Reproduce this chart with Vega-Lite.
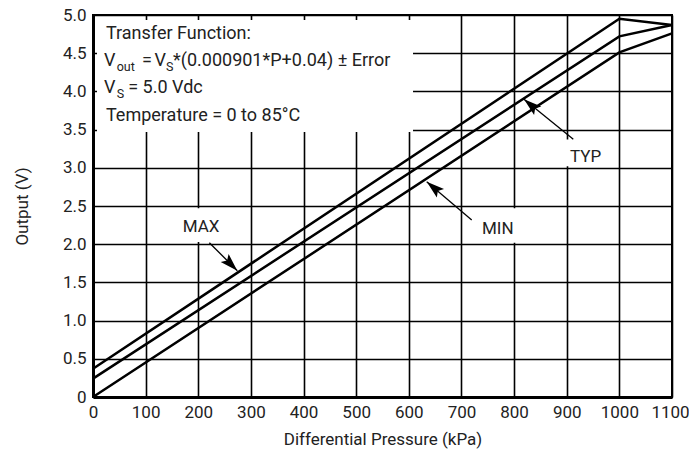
{
  "$schema": "https://vega.github.io/schema/vega-lite/v6.json",
  "width": 579,
  "height": 382,
  "autosize": {"type": "none"},
  "padding": {"left": 93, "top": 15, "right": 17, "bottom": 59},
  "background": "white",
  "config": {
    "view": {"stroke": "#000", "strokeWidth": 2},
    "font": "Roboto",
    "axis": {
      "grid": true,
      "gridColor": "#000",
      "gridWidth": 1.6,
      "gridOpacity": 1,
      "domainColor": "#000",
      "domainWidth": 3,
      "ticks": false,
      "tickSize": 0,
      "tickCount": 30,
      "labelFont": "Roboto",
      "labelFontSize": 17,
      "labelColor": "#222",
      "titleFont": "Roboto",
      "titleFontSize": 17,
      "titleFontWeight": "normal",
      "titleColor": "#222"
    }
  },
  "datasets": {
    "lines": [
      {"series": "MAX", "p": 0, "v": 0.37},
      {"series": "MAX", "p": 1000, "v": 4.95},
      {"series": "MAX", "p": 1100, "v": 4.87},
      {"series": "TYP", "p": 0, "v": 0.24},
      {"series": "TYP", "p": 1000, "v": 4.72},
      {"series": "TYP", "p": 1100, "v": 4.87},
      {"series": "MIN", "p": 0, "v": 0.0},
      {"series": "MIN", "p": 1000, "v": 4.51},
      {"series": "MIN", "p": 1100, "v": 4.76}
    ],
    "boxes": [
      {"x1": 7.6, "x2": 608, "y1": 3.47, "y2": 4.935},
      {"x1": 165, "x2": 247, "y1": 2.03, "y2": 2.47},
      {"x1": 731, "x2": 811, "y1": 2.02, "y2": 2.47},
      {"x1": 883, "x2": 975, "y1": 3.02, "y2": 3.37}
    ],
    "notes": [
      {"t": "Transfer Function:", "x": 24.7, "y": 4.686},
      {"t": "V", "x": 20.9, "y": 4.332},
      {"t": "=", "x": 93.0, "y": 4.332},
      {"t": "V", "x": 117.0, "y": 4.332},
      {"t": "*(0.000901*P+0.04) ± Error", "x": 152.0, "y": 4.332},
      {"t": "V", "x": 20.9, "y": 3.979},
      {"t": "= 5.0 Vdc", "x": 67.0, "y": 3.979},
      {"t": "Temperature = 0 to 85°C", "x": 24.7, "y": 3.613}
    ],
    "subs": [
      {"t": "out", "x": 45.0, "y": 4.267},
      {"t": "S", "x": 138.5, "y": 4.267},
      {"t": "S", "x": 45.0, "y": 3.914}
    ],
    "labels": [
      {"t": "MAX", "x": 205.2, "y": 2.16},
      {"t": "MIN", "x": 769, "y": 2.133},
      {"t": "TYP", "x": 935.7, "y": 3.08}
    ],
    "arrows": [
      {"name": "MAX", "x": 274.2, "y": 1.653, "x2": 221, "y2": 2.02},
      {"name": "MIN", "x": 634, "y": 2.818, "x2": 719.5, "y2": 2.317},
      {"name": "TYP", "x": 818.8, "y": 3.897, "x2": 912.5, "y2": 3.373}
    ]
  },
  "layer": [
    {
      "data": {"name": "lines"},
      "mark": {"type": "line", "color": "#000", "strokeWidth": 2.5},
      "encoding": {
        "x": {
          "field": "p", "type": "quantitative",
          "scale": {"domain": [0, 1100], "nice": false, "zero": false},
          "axis": {
            "title": "Differential Pressure (kPa)",
            "values": [0, 100, 200, 300, 400, 500, 600, 700, 800, 900, 1000, 1100],
            "format": "d",
            "labelFlush": false,
            "labelOverlap": false,
            "labelBound": false,
            "labelOffset": {"condition": {"test": "datum.value === 1100", "value": -2}, "value": 0},
            "labelPadding": 7,
            "titlePadding": 11
          }
        },
        "y": {
          "field": "v", "type": "quantitative",
          "scale": {"domain": [0, 5], "nice": false, "zero": false},
          "axis": {
            "title": "Output (V)",
            "values": [0, 0.5, 1, 1.5, 2, 2.5, 3, 3.5, 4, 4.5, 5],
            "labelExpr": "datum.value === 0 ? '0' : format(datum.value, '.1f')",
            "labelFlush": false,
            "labelOverlap": false,
            "labelPadding": 7,
            "titlePadding": 31
          }
        },
        "detail": {"field": "series"}
      }
    },
    {
      "data": {"name": "boxes"},
      "mark": {"type": "rect", "fill": "white", "stroke": null},
      "encoding": {
        "x": {"field": "x1", "type": "quantitative"},
        "x2": {"field": "x2"},
        "y": {"field": "y1", "type": "quantitative"},
        "y2": {"field": "y2"}
      }
    },
    {
      "data": {"name": "notes"},
      "mark": {"type": "text", "align": "left", "baseline": "alphabetic", "fontSize": 18, "font": "Roboto", "color": "#222"},
      "encoding": {
        "x": {"field": "x", "type": "quantitative"},
        "y": {"field": "y", "type": "quantitative"},
        "text": {"field": "t"}
      }
    },
    {
      "data": {"name": "subs"},
      "mark": {"type": "text", "align": "left", "baseline": "alphabetic", "fontSize": 12.5, "font": "Roboto", "color": "#222"},
      "encoding": {
        "x": {"field": "x", "type": "quantitative"},
        "y": {"field": "y", "type": "quantitative"},
        "text": {"field": "t"}
      }
    },
    {
      "data": {"name": "labels"},
      "mark": {"type": "text", "align": "center", "baseline": "alphabetic", "fontSize": 17, "font": "Roboto", "color": "#222"},
      "encoding": {
        "x": {"field": "x", "type": "quantitative"},
        "y": {"field": "y", "type": "quantitative"},
        "text": {"field": "t"}
      }
    },
    {
      "data": {"name": "arrows"},
      "mark": {"type": "rule", "color": "#000", "strokeWidth": 1.3},
      "encoding": {
        "x": {"field": "x", "type": "quantitative"},
        "y": {"field": "y", "type": "quantitative"},
        "x2": {"field": "x2"},
        "y2": {"field": "y2"}
      }
    },
    {
      "data": {"name": "arrows"},
      "transform": [{"filter": "datum.name === 'MAX'"}],
      "mark": {"type": "point", "shape": "M0,0 L0.5,1.6 L0,1.3 L-0.5,1.6 Z", "size": 500, "filled": true, "color": "#000", "opacity": 1, "angle": 135},
      "encoding": {
        "x": {"field": "x", "type": "quantitative"},
        "y": {"field": "y", "type": "quantitative"}
      }
    },
    {
      "data": {"name": "arrows"},
      "transform": [{"filter": "datum.name !== 'MAX'"}],
      "mark": {"type": "point", "shape": "M0,0 L0.5,1.6 L0,1.3 L-0.5,1.6 Z", "size": 500, "filled": true, "color": "#000", "opacity": 1, "angle": 310},
      "encoding": {
        "x": {"field": "x", "type": "quantitative"},
        "y": {"field": "y", "type": "quantitative"}
      }
    }
  ]
}
